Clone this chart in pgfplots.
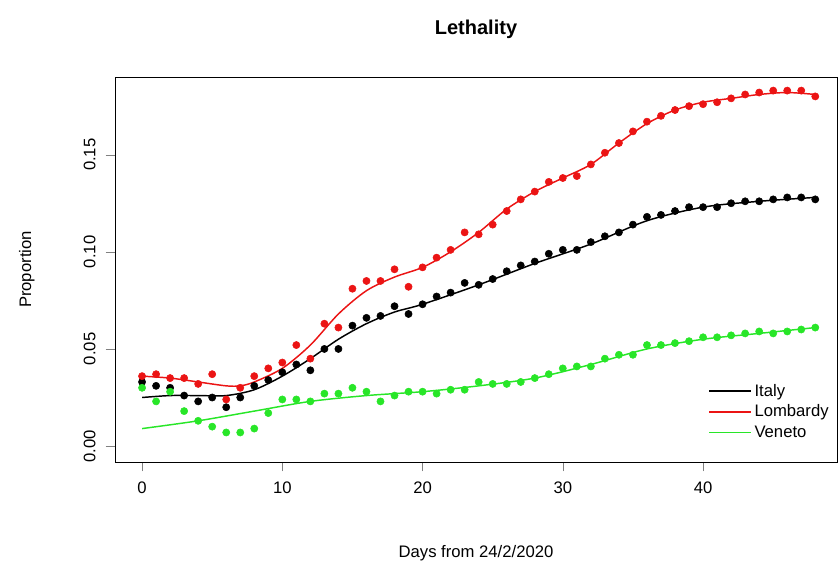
\documentclass[border=0pt]{standalone}
\usepackage{pgfplots}
\pgfplotsset{compat=1.18}
\usepackage{fontspec}
\setmainfont{Liberation Sans}
\definecolor{rred}{RGB}{235,20,20}
\definecolor{rgreen}{RGB}{40,230,40}
\begin{document}
\begin{tikzpicture}
\useasboundingbox (-86.25pt,-78.75pt) rectangle (542.25pt,346.5pt);
\begin{axis}[at={(0,0)},anchor=south west,scale only axis,width=541.5pt,height=288.75pt,
 xmin=-1.93,xmax=49.55,ymin=-0.0082,ymax=0.190,
 xtick={0,10,20,30,40},ytick={0,0.05,0.1,0.15},
 yticklabels={0.00,0.05,0.10,0.15},
 yticklabel style={rotate=90,anchor=south,yshift=4pt},
 xticklabel style={yshift=-4pt},
 tick align=outside,tick pos=left,major tick length=7pt,
 ticklabel style={font=\fontsize{12.5}{14}\selectfont},
 /pgf/number format/assume math mode=true,
 xlabel={Days from 24/2/2020},ylabel={Proportion},
 label style={font=\fontsize{12.5}{14}\selectfont},
 xlabel style={yshift=-32pt},ylabel style={yshift=30pt},
 title={\bfseries Lethality},title style={font=\fontsize{15}{17}\selectfont,yshift=19pt},
 legend style={draw=none,fill=none,at={(rel axis cs:0.998,0.045)},anchor=south east,font=\fontsize{12.5}{14}\selectfont,row sep=1pt},
 legend cell align=left,
 legend image code/.code={\draw[#1,line width=1.2pt](0cm,0cm)--(1.1cm,0cm);},
]
\addplot[only marks,mark=*,mark size=2.7pt,black,forget plot] coordinates {
(0,0.033)(1,0.031)(2,0.030)(3,0.026)(4,0.023)(5,0.025)(6,0.020)(7,0.025)(8,0.031)(9,0.034)
(10,0.038)(11,0.042)(12,0.039)(13,0.050)(14,0.050)(15,0.062)(16,0.066)(17,0.067)(18,0.072)(19,0.068)
(20,0.073)(21,0.077)(22,0.079)(23,0.084)(24,0.083)(25,0.086)(26,0.090)(27,0.093)(28,0.095)(29,0.099)
(30,0.101)(31,0.101)(32,0.105)(33,0.108)(34,0.110)(35,0.114)(36,0.118)(37,0.119)(38,0.121)(39,0.123)
(40,0.123)(41,0.123)(42,0.125)(43,0.126)(44,0.126)(45,0.127)(46,0.128)(47,0.128)(48,0.127)};
\addplot[only marks,mark=*,mark size=2.7pt,rred,forget plot] coordinates {
(0,0.036)(1,0.037)(2,0.035)(3,0.035)(4,0.032)(5,0.037)(6,0.024)(7,0.030)(8,0.036)(9,0.040)
(10,0.043)(11,0.052)(12,0.045)(13,0.063)(14,0.061)(15,0.081)(16,0.085)(17,0.085)(18,0.091)(19,0.082)
(20,0.092)(21,0.097)(22,0.101)(23,0.110)(24,0.109)(25,0.114)(26,0.121)(27,0.127)(28,0.131)(29,0.136)
(30,0.138)(31,0.139)(32,0.145)(33,0.151)(34,0.156)(35,0.162)(36,0.167)(37,0.170)(38,0.173)(39,0.175)
(40,0.176)(41,0.177)(42,0.179)(43,0.181)(44,0.182)(45,0.183)(46,0.183)(47,0.183)(48,0.180)};
\addplot[only marks,mark=*,mark size=2.7pt,rgreen,forget plot] coordinates {
(0,0.030)(1,0.023)(2,0.028)(3,0.018)(4,0.013)(5,0.010)(6,0.007)(7,0.007)(8,0.009)(9,0.017)
(10,0.024)(11,0.024)(12,0.023)(13,0.027)(14,0.027)(15,0.030)(16,0.028)(17,0.023)(18,0.026)(19,0.028)
(20,0.028)(21,0.027)(22,0.029)(23,0.029)(24,0.033)(25,0.032)(26,0.032)(27,0.033)(28,0.035)(29,0.037)
(30,0.040)(31,0.041)(32,0.041)(33,0.045)(34,0.047)(35,0.047)(36,0.052)(37,0.052)(38,0.053)(39,0.054)
(40,0.056)(41,0.056)(42,0.057)(43,0.058)(44,0.059)(45,0.058)(46,0.059)(47,0.060)(48,0.061)};
\addplot[black,line width=1.1pt,smooth] coordinates {(0,0.025)(2,0.026)(4,0.026)(6,0.026)(8,0.029)(10,0.036)(12,0.045)(14,0.055)(16,0.063)(18,0.069)(20,0.073)(24,0.083)(28,0.094)(32,0.104)(36,0.116)(40,0.123)(44,0.126)(48,0.128)};
\addlegendentry{Italy}
\addplot[rred,line width=1.1pt,smooth] coordinates {(0,0.036)(2,0.035)(4,0.033)(6,0.031)(7,0.031)(8,0.033)(10,0.040)(12,0.052)(14,0.068)(16,0.080)(18,0.087)(20,0.092)(22,0.100)(24,0.110)(26,0.122)(28,0.131)(30,0.138)(32,0.145)(34,0.156)(36,0.166)(38,0.173)(40,0.177)(42,0.179)(44,0.181)(46,0.182)(48,0.181)};
\addlegendentry{Lombardy}
\addplot[rgreen,line width=1.1pt,smooth] coordinates {(0,0.009)(4,0.013)(8,0.018)(12,0.023)(16,0.026)(20,0.028)(24,0.031)(28,0.035)(32,0.042)(36,0.050)(40,0.055)(44,0.058)(48,0.061)};
\addlegendentry{Veneto}
\end{axis}
\end{tikzpicture}
\end{document}
